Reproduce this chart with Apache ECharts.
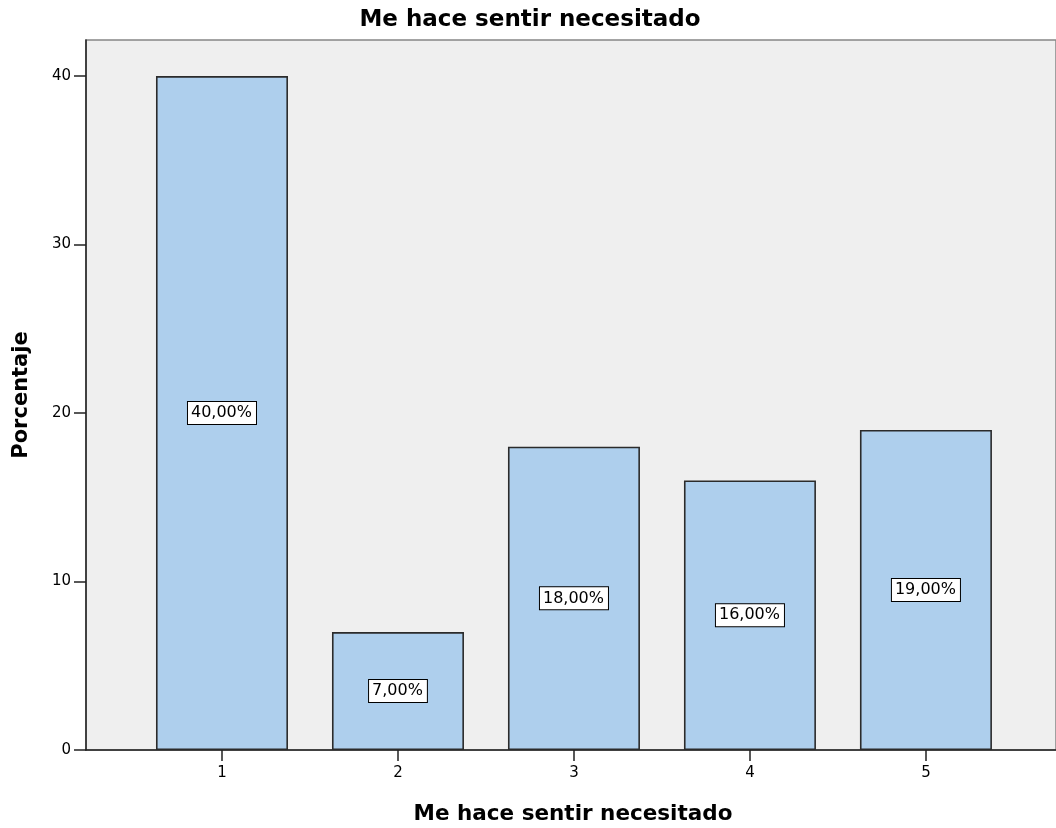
<!DOCTYPE html>
<html>
<head>
<meta charset="utf-8">
<script src="https://cdn.jsdelivr.net/npm/echarts@6/dist/echarts.min.js"></script>
<style>
  html, body { margin: 0; padding: 0; background: #fff; }
  #chart { width: 1056px; height: 828px; }
</style>
</head>
<body>
<div id="chart"></div>
<script>
const categories = [1, 2, 3, 4, 5]
const percentages = [40, 7, 18, 16, 19]
const yTicks = [0, 10, 20, 30, 40]

const title = 'Me hace sentir necesitado'
const xName = 'Me hace sentir necesitado'
const yName = 'Porcentaje'

const chart = echarts.init(document.getElementById('chart'))

const fmtPct = (v) => v.toFixed(2).replace('.', ',') + '%'
const boldText = { fontFamily: 'DejaVu Sans', fontWeight: 'bold', color: '#000' }

chart.setOption({
  animation: false,
  textStyle: { fontFamily: 'DejaVu Sans' },
  title: {
    text: title,
    left: 525,
    textAlign: 'center',
    top: 4,
    textStyle: { ...boldText, fontSize: 23 },
  },
  grid: {
    left: 86,
    top: 40,
    right: 0,
    bottom: 78,
    outerBoundsMode: 'none',
    show: true,
    backgroundColor: '#efefef',
    borderColor: '#868686',
    borderWidth: 1.5,
  },
  xAxis: {
    type: 'value',
    min: 0.2273,
    max: 5.739,
    name: xName,
    nameLocation: 'middle',
    nameGap: 53,
    nameTextStyle: { ...boldText, fontSize: 21.5, padding: [0, 0, 0, 4] },
    splitLine: { show: false },
    axisLine: { show: true, onZero: false, lineStyle: { color: '#222', width: 1.5 } },
    axisTick: { show: true, length: 11, customValues: categories, lineStyle: { color: '#222', width: 1.5 } },
    axisLabel: { customValues: categories, color: '#000', fontSize: 15, margin: 16 },
  },
  yAxis: {
    type: 'value',
    min: 0,
    max: 42.14,
    name: yName,
    nameLocation: 'middle',
    nameGap: 54,
    nameTextStyle: { ...boldText, fontSize: 21 },
    splitLine: { show: false },
    axisLine: { show: true, lineStyle: { color: '#222', width: 1.5 } },
    axisTick: { show: true, length: 12, customValues: yTicks, lineStyle: { color: '#222', width: 1.5 } },
    axisLabel: { customValues: yTicks, color: '#000', fontSize: 15, margin: 15 },
  },
  series: [
    {
      type: 'bar',
      data: categories.map((c, i) => [c, percentages[i]]),
      barWidth: 132,
      itemStyle: { color: '#aecfed', borderColor: '#2b2b2b', borderWidth: 1.6 },
      label: {
        show: true,
        position: 'inside',
        formatter: (p) => fmtPct(p.value[1]),
        color: '#000',
        fontSize: 16,
        backgroundColor: '#fff',
        borderColor: '#000',
        borderWidth: 1,
        padding: [4, 4, 2, 3],
      },
    },
  ],
})
</script>
</body>
</html>
